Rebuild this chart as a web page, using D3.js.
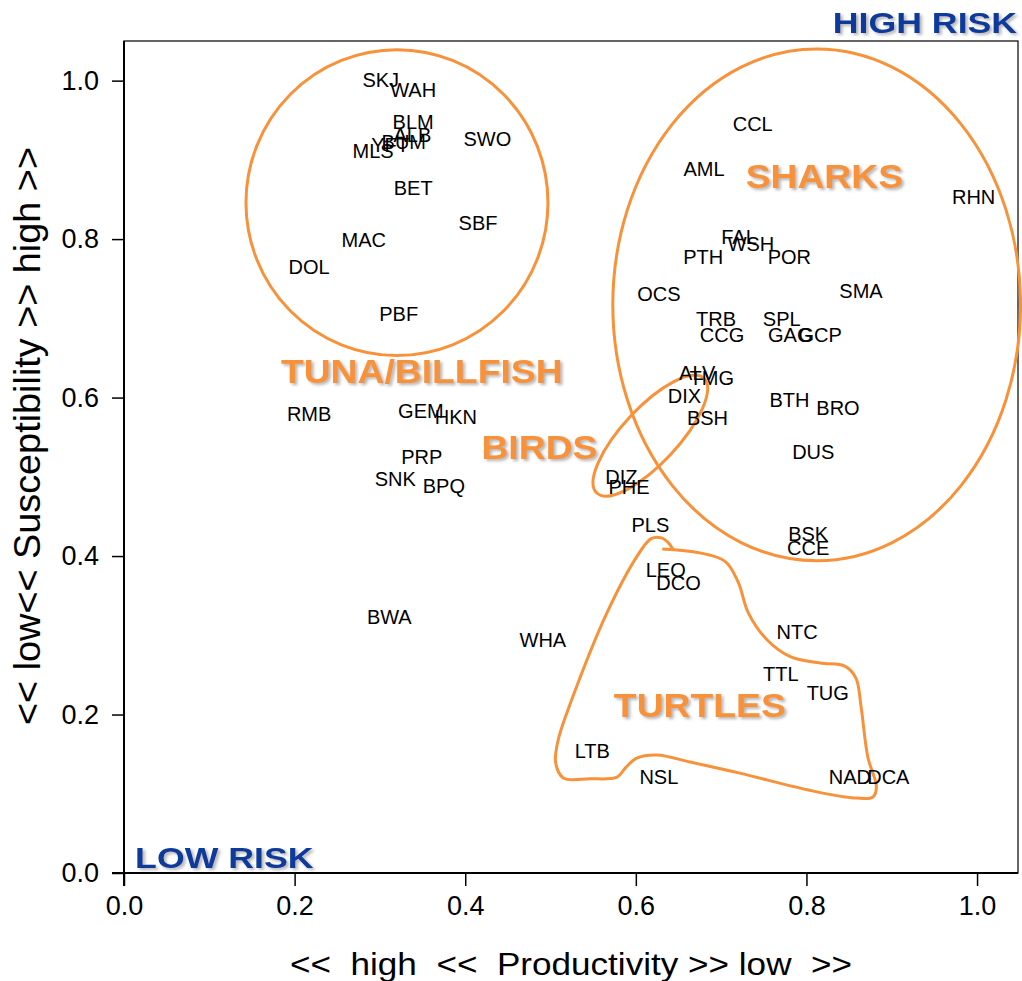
<!DOCTYPE html>
<html>
<head>
<meta charset="utf-8">
<script src="https://cdn.jsdelivr.net/npm/d3@7"></script>
<style>
  body { margin: 0; background: #fff; }
  svg { display: block; font-family: "Liberation Sans", Arial, sans-serif; }
</style>
</head>
<body>
<div id="chart"></div>
<script>
// Productivity (x) / Susceptibility (y) scores per species code
const codes = ["SKJ","WAH","BLM","ALB","BUM","YFT","MLS","SWO","BET","SBF","MAC","DOL","PBF",
  "CCL","AML","RHN","FAL","WSH","PTH","POR","OCS","SMA","TRB","SPL","CCG","GAG","GCP",
  "ALV","TMG","DIX","BSH","BTH","BRO","DUS","DIZ","PHE","PLS","BSK","CCE",
  "LEO","DCO","NTC","TTL","TUG","LTB","NSL","NAD","DCA","WHA",
  "RMB","GEM","HKN","PRP","SNK","BPQ","BWA"];
const productivity = [0.301,0.339,0.339,0.338,0.328,0.312,0.292,0.426,0.339,0.415,0.281,0.217,0.322,
  0.737,0.680,0.996,0.721,0.735,0.679,0.780,0.627,0.864,0.694,0.771,0.701,0.781,0.816,
  0.672,0.689,0.657,0.684,0.780,0.837,0.808,0.583,0.592,0.617,0.802,0.802,
  0.635,0.650,0.789,0.770,0.825,0.549,0.627,0.851,0.896,0.491,
  0.217,0.348,0.389,0.349,0.318,0.375,0.311];
const susceptibility = [1.001,0.989,0.948,0.931,0.923,0.919,0.912,0.927,0.865,0.821,0.799,0.765,0.706,
  0.946,0.889,0.854,0.803,0.794,0.778,0.778,0.731,0.735,0.699,0.699,0.679,0.679,0.679,
  0.631,0.625,0.602,0.574,0.597,0.587,0.532,0.500,0.487,0.439,0.428,0.410,
  0.383,0.366,0.304,0.251,0.228,0.154,0.121,0.121,0.121,0.294,
  0.580,0.583,0.576,0.525,0.497,0.489,0.323];

const xTicks = [0, 0.2, 0.4, 0.6, 0.8, 1.0];
const yTicks = [0, 0.2, 0.4, 0.6, 0.8, 1.0];

// group outlines (data units)
const groupNames = ["TUNA/BILLFISH", "SHARKS", "BIRDS", "TURTLES"];
const groupLabelX = [0.349, 0.821, 0.487, 0.675];
const groupLabelY = [0.633, 0.880, 0.538, 0.212];
const ellipseCx = [0.320, 0.812, 0.617];
const ellipseCy = [0.846, 0.717, 0.552];
const ellipseRx = [0.177, 0.239, 0.092];
const ellipseRy = [0.193, 0.323, 0.035];
const ellipseAngle = [0, 0, -47];
const turtleX = [0.631,0.675,0.705,0.720,0.732,0.754,0.781,0.816,0.845,0.858,0.864,0.872,0.882,0.878,
  0.853,0.801,0.722,0.664,0.625,0.601,0.588,0.578,0.546,0.515,0.506,0.509,0.526,0.566,0.601,0.618,0.630,0.638,0.644];
const turtleY = [0.409,0.404,0.393,0.367,0.328,0.294,0.273,0.265,0.261,0.246,0.210,0.146,0.109,0.096,
  0.095,0.105,0.126,0.140,0.149,0.145,0.133,0.121,0.119,0.120,0.139,0.168,0.222,0.328,0.399,0.422,0.423,0.417,0.408];

const W = 1022, H = 981;
const orange = "#F7923A", navy = "#0D3B9B";

const x = d3.scaleLinear().domain([0, 1.048]).range([124, 1018]);
const y = d3.scaleLinear().domain([0, 1.05]).range([873, 41]);

const svg = d3.select("#chart").append("svg")
  .attr("width", W).attr("height", H);

svg.append("rect").attr("width", W).attr("height", H).attr("fill", "#fff");

const defs = svg.append("defs");
defs.append("filter").attr("id", "shadow")
  .attr("x", "-10%").attr("y", "-30%").attr("width", "130%").attr("height", "170%")
  .append("feDropShadow")
  .attr("dx", 2).attr("dy", 2).attr("stdDeviation", 1.5)
  .attr("flood-color", "#777").attr("flood-opacity", 0.55);

// plot box
svg.append("rect")
  .attr("x", x(0)).attr("y", y(1.05))
  .attr("width", x(1.048) - x(0)).attr("height", y(0) - y(1.05))
  .attr("fill", "none").attr("stroke", "#000").attr("stroke-width", 1.2);

// axes
const xAxis = svg.append("g")
  .attr("transform", `translate(0,${y(0)})`)
  .call(d3.axisBottom(x).tickValues(xTicks).tickFormat(d3.format(".1f"))
    .tickSize(13).tickSizeOuter(0).tickPadding(10));
xAxis.select(".domain").attr("stroke-width", 2).attr("d", `M${x(0) - 12},0H${x(1.048)}`);
xAxis.selectAll(".tick line").attr("stroke-width", 1.5);
xAxis.selectAll("text").style("font-size", "27px").attr("fill", "#000");

const yAxis = svg.append("g")
  .attr("transform", `translate(${x(0)},0)`)
  .call(d3.axisLeft(y).tickValues(yTicks).tickFormat(d3.format(".1f"))
    .tickSize(12).tickSizeOuter(0).tickPadding(13));
yAxis.select(".domain").attr("stroke-width", 2).attr("d", `M0,${y(0) + 13}V${y(1.05)}`);
yAxis.selectAll(".tick line").attr("stroke-width", 1.5);
yAxis.selectAll("text").style("font-size", "27px").attr("fill", "#000");

// axis titles
svg.append("text")
  .attr("x", 571).attr("y", 975)
  .attr("text-anchor", "middle")
  .attr("textLength", 562).attr("lengthAdjust", "spacingAndGlyphs")
  .style("font-size", "32px").style("white-space", "pre")
  .text("<<  high  <<  Productivity >> low  >>");

svg.append("text")
  .attr("transform", "translate(40,436) rotate(-90)")
  .attr("text-anchor", "middle")
  .attr("textLength", 578).attr("lengthAdjust", "spacingAndGlyphs")
  .style("font-size", "37px").style("white-space", "pre")
  .text("<< low<< Susceptibility >> high >>");

// group outlines
const outlines = svg.append("g").attr("fill", "none")
  .attr("stroke", orange).attr("stroke-width", 3);

ellipseCx.forEach((cx, i) => {
  const px = x(cx), py = y(ellipseCy[i]);
  outlines.append("ellipse")
    .attr("cx", px).attr("cy", py)
    .attr("rx", x(ellipseRx[i]) - x(0))
    .attr("ry", y(0) - y(ellipseRy[i]))
    .attr("transform", `rotate(${ellipseAngle[i]},${px},${py})`);
});

outlines.append("path")
  .datum(turtleX.map((v, i) => [v, turtleY[i]]))
  .attr("d", d3.line().x(d => x(d[0])).y(d => y(d[1])).curve(d3.curveCatmullRom.alpha(0.5)));

// species labels
svg.append("g").selectAll("text")
  .data(codes)
  .join("text")
  .attr("x", (d, i) => x(productivity[i]))
  .attr("y", (d, i) => y(susceptibility[i]))
  .attr("dy", "0.36em")
  .attr("text-anchor", "middle")
  .style("font-size", "20px")
  .attr("fill", "#000")
  .text(d => d);

// group names
svg.append("g").selectAll("text")
  .data(groupNames)
  .join("text")
  .attr("transform", (d, i) => `translate(${x(groupLabelX[i])},${y(groupLabelY[i])}) scale(1.13,1)`)
  .attr("dy", "0.36em")
  .attr("text-anchor", "middle")
  .attr("filter", "url(#shadow)")
  .style("font-size", "33px").style("font-weight", "bold")
  .attr("fill", orange)
  .text(d => d);

// risk corners
svg.append("text")
  .attr("transform", `translate(${x(1.047)},${y(1.074)}) scale(1.19,1)`)
  .attr("dy", "0.36em").attr("text-anchor", "end")
  .attr("filter", "url(#shadow)")
  .style("font-size", "30px").style("font-weight", "bold")
  .attr("fill", navy).text("HIGH RISK");

svg.append("text")
  .attr("transform", `translate(${x(0.013)},${y(0.020)}) scale(1.19,1)`)
  .attr("dy", "0.36em").attr("text-anchor", "start")
  .attr("filter", "url(#shadow)")
  .style("font-size", "30px").style("font-weight", "bold")
  .attr("fill", navy).text("LOW RISK");
</script>
</body>
</html>
